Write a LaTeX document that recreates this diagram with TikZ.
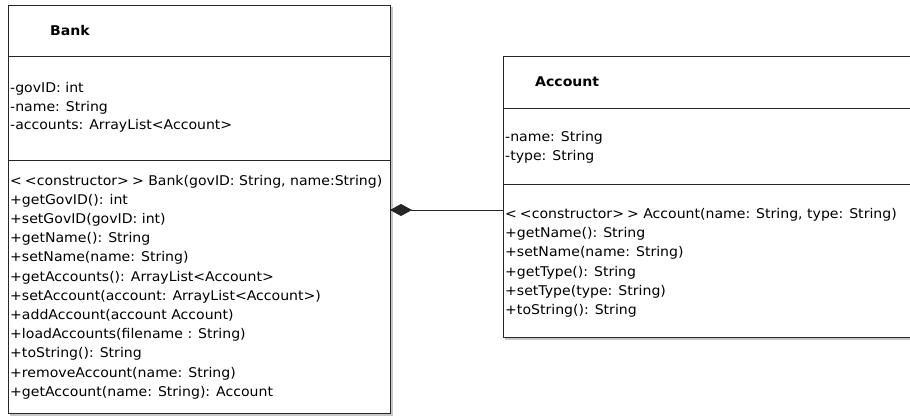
\documentclass[tikz,border=0pt]{standalone}
\usepackage{fontspec}
\setmainfont[FakeStretch=1.05]{DejaVu Sans}
\usetikzlibrary{arrows.meta}
\newcommand{\stlt}{<\kern3pt<}
\newcommand{\stgt}{>\kern3pt>}
\tikzset{
  umlbox/.style={draw=black!85, line width=0.9pt, fill=white, anchor=north west, inner sep=0pt, outer sep=0pt},
  divider/.style={draw=black!85, line width=0.9pt},
  txt/.style={anchor=base west, inner sep=0pt, font=\fontsize{13.4}{15}\selectfont},
  ttl/.style={anchor=base west, inner sep=0pt, font=\fontsize{13.4}{15}\selectfont\bfseries},
  assoc/.style={draw=black!85, line width=0.9pt, -{Diamond[length=22pt,width=12pt]}}
}
\begin{document}
\begin{tikzpicture}[x=1pt,y=-1pt]
\useasboundingbox (0,0) rectangle (910,415);
% shadows
\fill[black!22] (10,7) rectangle (393,416);
\fill[black!22] (505,58) rectangle (920,340);
% boxes
\node[umlbox, minimum width=382pt, minimum height=408pt] (bank) at (8,5) {};
\node[umlbox, minimum width=412pt, minimum height=281pt] (acct) at (503,56) {};
% dividers
\draw[divider] (bank.west |- 0,56) -- (bank.east |- 0,56);
\draw[divider] (bank.west |- 0,160) -- (bank.east |- 0,160);
\draw[divider] (acct.west |- 0,108) -- (acct.east |- 0,108);
\draw[divider] (acct.west |- 0,184) -- (acct.east |- 0,184);
% Bank texts
\node[ttl] (bankname) at (50,35) {Bank};
\node[txt] (ba1) at (10,92.5) {-govID: int};
\node[txt] (ba2) at (10,111) {-name: String};
\node[txt] (ba3) at (10,129.5) {-accounts: ArrayList<Account>};
\node[txt] (bm1) at (10,185) {\stlt constructor\stgt{} Bank(govID: String, name:String)};
\node[txt] (bm2) at (10,204.2) {+getGovID(): int};
\node[txt] (bm3) at (10,223.4) {+setGovID(govID: int)};
\node[txt] (bm4) at (10,242.6) {+getName(): String};
\node[txt] (bm5) at (10,261.8) {+setName(name: String)};
\node[txt] (bm6) at (10,281) {+getAccounts(): ArrayList<Account>};
\node[txt] (bm7) at (10,300.2) {+setAccount(account: ArrayList<Account>)};
\node[txt] (bm8) at (10,319.4) {+addAccount(account Account)};
\node[txt] (bm9) at (10,338.6) {+loadAccounts(filename : String)};
\node[txt] (bm10) at (10,357.8) {+toString(): String};
\node[txt] (bm11) at (10,377) {+removeAccount(name: String)};
\node[txt] (bm12) at (10,396.2) {+getAccount(name: String): Account};
% Account texts
\node[ttl] (acctname) at (535,86.5) {Account};
\node[txt] (aa1) at (505,141.5) {-name: String};
\node[txt] (aa2) at (505,160) {-type: String};
\node[txt] (am1) at (505,218.3) {\stlt constructor\stgt{} Account(name: String, type: String)};
\node[txt] (am2) at (505,237.6) {+getName(): String};
\node[txt] (am3) at (505,256.9) {+setName(name: String)};
\node[txt] (am4) at (505,276.2) {+getType(): String};
\node[txt] (am5) at (505,295.5) {+setType(type: String)};
\node[txt] (am6) at (505,314.8) {+toString(): String};
% composition
\coordinate (ca) at (acct.west |- 0,210);
\coordinate (cb) at (bank.east |- 0,210);
\draw[assoc] (ca) -- (cb);
\end{tikzpicture}
\end{document}
